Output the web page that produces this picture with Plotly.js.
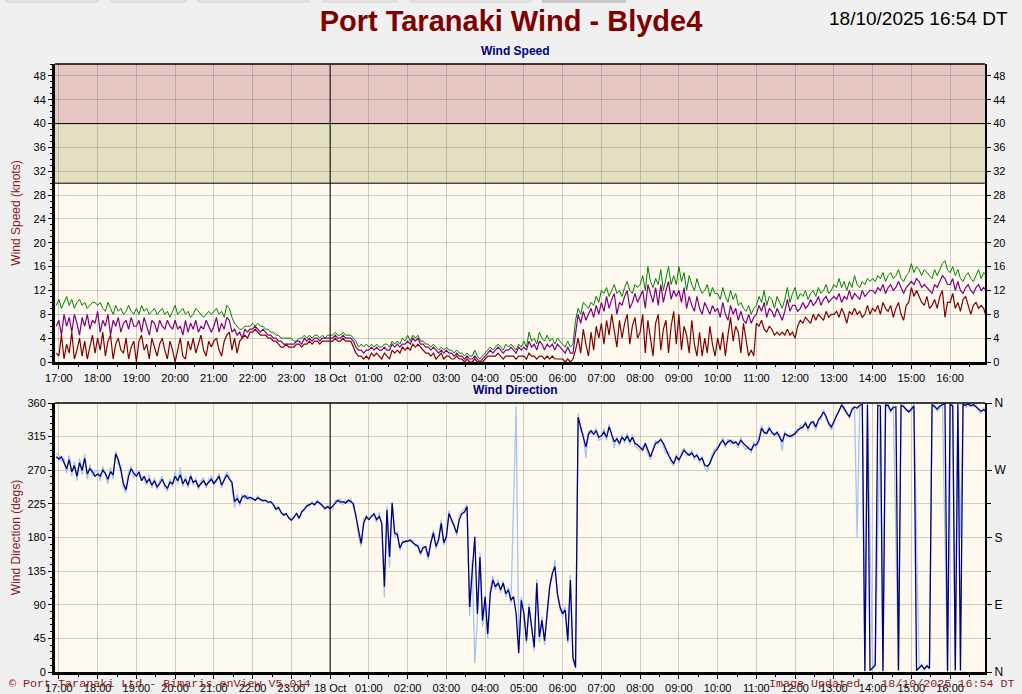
<!DOCTYPE html>
<html>
<head>
<meta charset="utf-8">
<script src="https://cdn.plot.ly/plotly-3.0.1.min.js"></script>
<style>
html,body{margin:0;padding:0;background:#f0f0f0;}
#chart{width:1022px;height:694px;}
</style>
</head>
<body>
<div id="chart"></div>
<script>
// ---- Data (4-minute samples starting 17/10/2025 16:56, one row per hour) ----
const GUST_KT = [9.5,
 10.5,9,10,11,9.5,10.5,9,10,10.5,9.5,10,9,9.5,10,10,
 9.5,10,9,8.5,10,9,8,9.5,8.5,9,8,8.5,9.5,8.5,8,
 9,8,9.5,8.5,9,8,8.5,9,8,8.5,9,8,8.5,7.5,8.5,
 9.5,8,8.5,9,8,8.5,7.5,8,9,8.5,8,7.5,8,8.5,8,
 8.5,9,8,8.5,7.5,9.5,9,7.5,6.5,6,5.5,5.5,6,6,6,
 6.5,6,6.5,6,6,5.5,5.5,5,5,4.5,4.5,4,4,4,4,
 4,3.5,3.5,4,4,4.5,4,4.5,4,4.5,4.5,4,4.5,4,4.5,
 4.5,4.5,5,4.5,4.5,5,4.5,4.5,4.5,4,3.5,2.5,3,2.5,3,
 2.5,3,2.5,3,2.5,2.5,3,3,2.5,3.5,3,3.5,3,4,3.5,
 4.5,3.5,4.5,4,4.5,3.5,3.5,3,3,2.5,3,2.5,2,2.5,2,
 2.5,2,2,1.5,2,1.5,1.5,1,1.5,1,1,2,1,0.5,1,
 1.5,2,2.5,2,2.5,3,2.5,2,3,2.5,3,2.5,2,3,2.5,
 3.5,2.5,5,3.5,4,3,5,4,3.5,4.5,3.5,4,3,4,3.5,
 3,2.5,3.5,2.5,3,7,9,8,10,9.5,9,10,9.5,11,10,
 12,11.5,12.5,11,12,13,11.5,12,11,12.5,13.5,12,11.5,13,12.5,
 13,14.5,12,16,13.5,12.5,14,13,15.5,12,14,16,13,14.5,13,
 16,13.5,15,12,14.5,13,12,14,12.5,11.5,12,13,11,12.5,11.5,
 11.5,10.5,12.5,11,10,12,10.5,11.5,9.5,10,9,8.5,9.5,8,9,
 9.5,11,10,12,9.5,11,10.5,9,11,10,9,10.5,12.5,10,11.5,
 12.5,10.5,11.5,11,12,10.5,11.5,12,11,12.5,11.5,12,13,11.5,12,
 13,12.5,14,12.5,13.5,12,13.5,12.5,14.5,13,12.5,13.5,13,14,13.5,
 14,13.5,14.5,14,15,13.5,14.5,15,14,14.5,15.5,14,13.5,14.5,15,
 16.5,15,16,15.5,14.5,15.5,15,14.5,14,15.5,14.5,15.5,16.5,17,15.5,
 15,16,14.5,15.5,14,13.5,14.5,15,14,13.5,14.5,15.5,14,15,14.5];

const MEAN_KT = [6,
 7,4.5,8,6,7.5,5,8,6.5,4.5,7.5,6,8,5.5,7,6.5,
 8.5,5,7,6,8,4.5,7,6,7.5,5,6.5,7,5.5,7.5,6,
 6,7,5,7.5,6,4.5,7,6.5,5,7,6,5.5,7,6,5.5,
 7,5.5,6,4.5,7,5,6.5,5.5,7,5,6,5.5,7,6,5,
 6,7.5,5,6.5,5.5,7.5,7,5,5.5,4.5,5,4,5.5,5,5.5,
 5.5,6,5.5,5,5.5,5,4.5,4.5,4,4,3.5,3.5,3,3,3,
 3,3,3.5,3.5,3,4,3.5,4,3.5,4,4,3.5,4,4,4,
 4,4,4.5,4,4,4.5,4,4,4,3.5,2.5,2,2,1.5,2,
 2,2.5,2,2.5,2,2,2.5,2,2,3,2.5,3,2.5,3,3,
 3.5,3,4,3.5,4,3,3,2.5,2.5,2,2.5,2,1.5,2,1.5,
 2,1.5,1.5,1,1.5,1,1,0.5,1,0.5,0.5,1,0.5,0,0.5,
 1,1.5,2,1.5,2,2.5,2,1.5,2,2,2.5,2,1.5,2.5,2,
 2.5,2,3.5,2.5,3,2,3.5,3,2,3,2.5,3,2,3,2.5,
 2,1.5,2.5,1.5,1.5,5,8,6.5,8.5,7,8,9,7.5,9.5,8,
 10,8.5,11,9,10.5,11.5,8,10,9.5,11,12,9,10,11.5,10,
 11,12,9,13,11.5,10,12.5,9.5,13,10,12,13.5,10.5,12,11,
 12,10,12.5,9,11,9.5,8.5,11,9,8,10,9,8,9.5,8.5,
 9,7.5,10,8,7,9.5,8,9,7,8.5,7,6.5,8,6.5,7.5,
 8,9.5,8.5,10,7.5,9,8.5,7.5,9,8,7,8.5,10.5,8.5,9.5,
 9.5,8.5,9,10,9,9.5,10.5,9.5,10,11,9.5,10.5,11,10,10.5,
 11,10.5,11.5,10,11,10.5,12,10.5,11.5,11,10.5,12,11,11.5,12,
 12,11.5,12.5,12,13,11.5,12.5,13,12,12.5,13.5,12.5,11.5,12.5,13,
 13.5,13,14,13.5,12.5,13,12.5,12,11.5,13,12.5,13.5,14.5,14,13,
 13,14,12,13.5,12,11.5,12.5,13,12,11.5,12.5,13,12,12.5,12];

const LULL_KT = [1.5,
 1,4.5,0.5,3,1.5,5,0.5,2,4,1,3.5,0.5,2.5,4.5,1.5,
 4,2,5,1,3.5,4.5,0.5,3,4,2,1.5,4,0.5,2.5,3.5,
 0,3.5,4.5,2,3,0.5,4,2.5,1,3,4,2,0.5,3.5,2,
 0,2,4,1,0.5,3.5,2,4,1.5,3,4.5,2,1,3.5,2.5,
 3.5,4,2,1,3.5,4.5,5,2,4,1.5,3.5,4,4.5,4,5,
 5,5.5,5,4.5,4.5,4.5,4,4,3.5,3.5,3,2.5,2.5,3,2.5,
 2.5,2.5,3,3,2.5,3,3,3.5,3,3.5,3.5,3,3.5,3.5,3.5,
 3.5,3.5,4,3.5,3.5,4,3.5,3.5,3.5,2.5,1.5,1,1,0.5,1,
 0.5,1.5,1,1.5,1,0.5,1.5,1,0.5,2,1.5,2,1.5,2.5,2,
 2.5,2,3,2.5,3,2.5,2,1.5,1.5,1,1.5,0.5,1,1.5,0.5,
 1,1,0.5,0.5,1,0.5,0.5,0,0.5,0,0,0.5,0,0,0,
 0.5,1,1,1,1,1.5,1,0.5,1,1,1,1,0.5,1,1,
 1,0.5,1.5,1,1,0.5,1,1,0.5,1,0.5,1,0.5,0.5,0.5,
 0.5,0,0.5,0,0.5,2,4,1.5,5.5,3,1,5,2,6,4,
 6.5,3,7,4.5,8,5,2.5,7,4,6.5,8,3,6,7.5,4,
 5,8,1.5,7,4,1,6.5,8,2,5.5,7,1.5,6,8.5,3,
 8,2,6,4.5,1.5,7,3,1,5,1,4,1.5,6,3,1,
 4,2,5,1,4.5,7.5,3.5,6,5,1.5,6.5,4,1,2,1,
 6.5,6,7,5.5,5,6,5.5,4.5,5,4.5,5,4.5,5.5,4.5,5,
 4,6,7,6.5,7.5,7,6.5,8,7,8,7.5,7,8.5,7.5,8,
 8,8.5,7.5,9,8,6.5,8.5,8,9,8,8.5,7.5,8,9.5,8,
 9,8.5,9.5,8,10,9,8.5,9.5,7.5,9,10,8,7,9.5,10,
 12.5,11,12,11,10,9.5,11,9,9.5,10.5,9,11,12,7.5,10,
 10,11.5,9,10,8.5,10.5,11,9.5,8,9.5,10,9,9.5,9,7.5];

const DIR_AVG_DEG = [288,
 285,288,280,272,284,268,276,262,280,270,286,265,272,268,262,
 265,262,270,266,258,268,264,292,284,270,252,244,262,272,266,
 262,268,256,262,254,258,250,256,248,252,258,250,246,254,252,
 262,256,264,252,258,250,262,254,256,248,252,256,250,254,258,
 252,258,262,250,256,264,258,254,228,232,226,234,236,232,234,
 232,230,233,231,229,230,227,228,224,218,220,214,210,212,206,
 203,208,212,206,214,218,222,224,226,224,228,226,222,219,221,
 219,222,226,230,227,228,226,230,228,225,208,190,172,199,208,
 204,208,212,204,208,199,114,217,154,226,186,184,166,173,175,
 175,177,173,170,168,159,166,168,154,173,186,168,177,199,173,
 181,212,204,195,186,204,212,214,221,87,141,181,78,154,69,
 101,51,105,123,114,119,110,119,105,110,96,101,78,25,96,
 78,42,87,60,33,119,47,69,42,78,114,132,141,105,87,
 78,83,42,123,20,6,341,328,314,301,318,323,318,323,314,
 316,321,314,328,318,308,312,306,314,310,316,308,314,306,304,
 301,297,306,297,288,297,306,308,311,306,297,290,284,279,288,
 284,290,297,293,290,293,288,290,284,286,277,275,279,288,295,
 299,306,310,304,308,310,306,308,304,310,306,302,299,297,304,
 304,310,326,321,319,326,321,317,321,315,308,319,317,315,317,
 319,324,326,328,333,326,333,335,328,337,342,348,342,333,328,
 335,342,351,357,353,346,342,351,355,353,357,358,1,358,2,
 6,9,357,356,1,357,357,350,354,355,2,357,355,352,348,
 352,356,2,6,9,4,8,5,358,355,352,356,357,359,1,
 358,356,2,359,2,358,357,359,356,358,355,352,349,351,348];

const DIR_RAW_DEG = [292,
 290,282,286,266,290,262,282,256,286,264,292,258,278,262,268,
 270,256,275,262,252,274,258,296,278,276,246,240,268,276,260,
 266,262,260,258,250,264,246,260,244,256,262,246,242,258,248,
 268,252,274,248,262,246,266,250,260,244,256,260,246,258,262,
 256,254,266,246,260,268,262,248,220,238,222,238,232,236,230,
 234,228,236,229,231,228,229,226,226,216,222,212,212,210,208,
 205,206,214,204,216,216,224,222,228,222,230,224,224,217,223,
 221,218,230,228,231,224,230,226,232,220,212,180,168,205,204,
 206,210,208,200,214,196,100,222,140,228,180,188,162,176,172,
 177,174,176,168,171,156,169,165,150,176,190,164,180,204,170,
 184,216,200,198,182,208,215,218,224,75,150,12,70,160,60,
 95,45,110,128,110,124,106,122,100,114,92,210,356,30,100,
 82,38,92,55,28,124,40,74,36,82,118,128,150,100,84,
 74,88,38,130,15,10,346,322,318,286,322,320,322,326,310,
 312,326,310,332,316,300,316,302,318,306,320,304,318,302,300,
 296,302,302,292,284,300,310,304,314,302,292,294,280,276,292,
 280,294,300,289,293,297,284,293,280,289,273,268,282,292,298,
 302,303,314,300,312,306,310,305,300,314,302,298,302,293,308,
 300,314,330,318,322,329,318,320,318,318,296,322,314,318,314,
 322,320,330,325,336,322,336,332,324,340,338,351,338,330,324,
 332,345,348,359,350,349,339,354,352,180,356,359,3,356,180,
 4,11,180,353,3,359,354,347,357,180,5,354,358,349,351,
 349,359,180,4,11,2,10,3,355,358,349,353,360,180,3,
 355,359,4,356,180,360,354,357,359,355,358,349,346,354,345];

const HOUR_TICK_LABELS = ['17:00','18:00','19:00','20:00','21:00','22:00','23:00','18 Oct',
 '01:00','02:00','03:00','04:00','05:00','06:00','07:00','08:00','09:00','10:00',
 '11:00','12:00','13:00','14:00','15:00','16:00'];
const SPEED_TICKS = [0,4,8,12,16,20,24,28,32,36,40,44,48];
const DIR_TICKS = [0,45,90,135,180,225,270,315,360];
const COMPASS_TICKS = [0,90,180,270,360];
const COMPASS_LABELS = ['N','E','S','W','N'];

// ---- Time axis helpers ----
const SAMPLE_START = Date.UTC(2025, 9, 17, 16, 56);
const SAMPLE_STEP_MS = 4 * 60 * 1000;
function fmt(ms){ return new Date(ms).toISOString().slice(0,16).replace('T',' '); }
const times = GUST_KT.map((_, i) => fmt(SAMPLE_START + i * SAMPLE_STEP_MS));
const FIRST_HOUR = Date.UTC(2025, 9, 17, 17, 0);
const hourTicks = HOUR_TICK_LABELS.map((_, i) => fmt(FIRST_HOUR + i * 3600000));
const X_RANGE = ['2025-10-17 16:54', '2025-10-18 16:54'];

const GRID = 'rgba(110,110,110,0.32)';
const TICKFONT = {family: 'Liberation Sans, Arial, sans-serif', size: 11, color: '#000'};
const RED_TXT = '#8c1c1c';

const traces = [
  {x: times, y: GUST_KT, type: 'scatter', mode: 'lines', line: {color: '#008000', width: 1}, xaxis: 'x', yaxis: 'y', name: 'Gust'},
  {x: times, y: MEAN_KT, type: 'scatter', mode: 'lines', line: {color: '#800080', width: 1.2}, xaxis: 'x', yaxis: 'y', name: 'Mean'},
  {x: times, y: LULL_KT, type: 'scatter', mode: 'lines', line: {color: '#800000', width: 1.2}, xaxis: 'x', yaxis: 'y', name: 'Lull'},
  {x: times, y: DIR_RAW_DEG, type: 'scatter', mode: 'lines', line: {color: '#a6c6ee', width: 1.3}, xaxis: 'x2', yaxis: 'y2', name: 'Dir raw'},
  {x: times, y: DIR_AVG_DEG, type: 'scatter', mode: 'lines', line: {color: '#000080', width: 1.3}, xaxis: 'x2', yaxis: 'y2', name: 'Dir avg'},
  {x: [], y: [], type: 'scatter', mode: 'lines', xaxis: 'x', yaxis: 'y3', hoverinfo: 'skip'},
  {x: [], y: [], type: 'scatter', mode: 'lines', xaxis: 'x2', yaxis: 'y4', hoverinfo: 'skip'}
];

// page pixel -> paper coordinates (plot area 55..985 x 64..672)
const PL = 55, PW = 930, PB = 672, PH = 608;
const px = v => (v - PL) / PW;
const py = v => (PB - v) / PH;

function xAxis(anchor){
  return {
    type: 'date', anchor: anchor, range: X_RANGE, domain: [0, 1],
    tickmode: 'array', tickvals: hourTicks, ticktext: HOUR_TICK_LABELS,
    ticks: 'outside', ticklen: 4, tickcolor: '#000', tickfont: TICKFONT,
    showgrid: true, gridcolor: GRID, gridwidth: 1,
    showline: true, linecolor: '#000', linewidth: 3, zeroline: false,
    minor: {tick0: '2025-10-17 17:00', dtick: 1800000, ticks: 'outside', ticklen: 2, tickcolor: '#000', showgrid: false},
    fixedrange: true
  };
}

const tabs = [[5,99,'#e0e0e0'],[110,187,'#e0e0e0'],[197,310,'#e0e0e0'],[322,398,'#e0e0e0'],[409,532,'#e0e0e0'],[542,626,'#c8c8c8']];

const yTopDomain = [py(362), 1];
const yBotDomain = [0, py(403)];
const midFrac = (Date.UTC(2025,9,18,0,0) - Date.UTC(2025,9,17,16,54)) / (24 * 3600000);
const topFrac = v => yTopDomain[0] + (yTopDomain[1] - yTopDomain[0]) * v / 50;

const shapes = [
  {type: 'rect', xref: 'x domain', yref: 'y', x0: 0, x1: 1, y0: 30, y1: 40, fillcolor: '#e3e0c1', line: {width: 0}, layer: 'below'},
  {type: 'rect', xref: 'x domain', yref: 'y', x0: 0, x1: 1, y0: 40, y1: 50, fillcolor: '#e6c6c0', line: {width: 0}, layer: 'below'},
  {type: 'line', xref: 'paper', yref: 'paper', x0: 0, x1: 1, y0: topFrac(30), y1: topFrac(30), line: {color: '#000', width: 1}},
  {type: 'line', xref: 'paper', yref: 'paper', x0: 0, x1: 1, y0: topFrac(40), y1: topFrac(40), line: {color: '#000', width: 1}},
  {type: 'line', xref: 'paper', yref: 'paper', x0: midFrac, x1: midFrac, y0: yTopDomain[0], y1: yTopDomain[1], line: {color: '#000', width: 1}},
  {type: 'line', xref: 'paper', yref: 'paper', x0: midFrac, x1: midFrac, y0: yBotDomain[0], y1: yBotDomain[1], line: {color: '#000', width: 1}},
  {type: 'line', xref: 'paper', yref: 'paper', x0: 0, x1: 1, y0: yTopDomain[1], y1: yTopDomain[1], line: {color: '#000', width: 1.5}},
  {type: 'line', xref: 'paper', yref: 'paper', x0: 0, x1: 1, y0: yBotDomain[1], y1: yBotDomain[1], line: {color: '#000', width: 1.5}}
].concat(tabs.map(t => ({type: 'rect', xref: 'paper', yref: 'paper', x0: px(t[0]), x1: px(t[1]), y0: py(3), y1: py(0), fillcolor: t[2], line: {width: 0}})));

const layout = {
  width: 1022, height: 694,
  margin: {l: PL, r: 1022 - PL - PW, t: 64, b: 694 - PB},
  paper_bgcolor: '#f0f0f0', plot_bgcolor: '#fffaf0',
  showlegend: false, hovermode: false,
  title: {text: 'Port Taranaki Wind - Blyde4', x: 0.5, xref: 'container', xanchor: 'center', y: 1 - 21/694, yref: 'container', yanchor: 'middle',
          font: {family: 'Liberation Sans, Arial, sans-serif', size: 29, color: '#800000', weight: 700}},
  xaxis: xAxis('y'),
  xaxis2: Object.assign(xAxis('y2'), {matches: 'x'}),
  yaxis: {
    domain: yTopDomain, anchor: 'x', range: [0, 50],
    tickmode: 'array', tickvals: SPEED_TICKS, ticks: 'outside', ticklen: 4, tickcolor: '#000', tickfont: TICKFONT,
    showgrid: true, gridcolor: GRID, showline: true, linecolor: '#000', linewidth: 3, zeroline: false,
    minor: {dtick: 1, ticks: 'outside', ticklen: 2, tickcolor: '#000', showgrid: false},
    title: {text: 'Wind Speed (knots)', font: {family: 'Liberation Sans, Arial, sans-serif', size: 12, color: RED_TXT}, standoff: 11},
    fixedrange: true
  },
  yaxis3: {
    overlaying: 'y', side: 'right', anchor: 'x', range: [0, 50],
    tickmode: 'array', tickvals: SPEED_TICKS, ticks: 'outside', ticklen: 4, tickcolor: '#000', tickfont: TICKFONT,
    showgrid: false, showline: true, linecolor: '#000', linewidth: 2, zeroline: false, fixedrange: true
  },
  yaxis2: {
    domain: yBotDomain, anchor: 'x2', range: [0, 360],
    tickmode: 'array', tickvals: DIR_TICKS, ticks: 'outside', ticklen: 4, tickcolor: '#000', tickfont: TICKFONT,
    showgrid: true, gridcolor: GRID, showline: true, linecolor: '#000', linewidth: 3, zeroline: false,
    minor: {dtick: 9, ticks: 'outside', ticklen: 2, tickcolor: '#000', showgrid: false},
    title: {text: 'Wind Direction (degs)', font: {family: 'Liberation Sans, Arial, sans-serif', size: 12, color: RED_TXT}, standoff: 5},
    fixedrange: true
  },
  yaxis4: {
    overlaying: 'y2', side: 'right', anchor: 'x2', range: [0, 360],
    tickmode: 'array', tickvals: COMPASS_TICKS, ticktext: COMPASS_LABELS, ticks: 'outside', ticklen: 5, tickcolor: '#000',
    tickfont: {family: 'Liberation Sans, Arial, sans-serif', size: 12, color: '#000'},
    showgrid: false, showline: true, linecolor: '#000', linewidth: 2, zeroline: false,
    minor: {dtick: 45, ticks: 'outside', ticklen: 4, tickcolor: '#000', showgrid: false},
    fixedrange: true
  },
  shapes: shapes,
  annotations: [
    {text: '18/10/2025 16:54 DT', xref: 'paper', yref: 'paper', x: px(918), y: py(18), xanchor: 'center', yanchor: 'middle', showarrow: false,
     font: {family: 'Liberation Sans, Arial, sans-serif', size: 19, color: '#000'}},
    {text: '<b>Wind Speed</b>', xref: 'paper', yref: 'paper', x: px(515), y: py(51), xanchor: 'center', yanchor: 'middle', showarrow: false,
     font: {family: 'Liberation Sans, Arial, sans-serif', size: 12, color: '#000080'}},
    {text: '<b>Wind Direction</b>', xref: 'paper', yref: 'paper', x: px(515), y: py(390), xanchor: 'center', yanchor: 'middle', showarrow: false,
     font: {family: 'Liberation Sans, Arial, sans-serif', size: 12, color: '#000080'}},
    {text: '© Port Taranaki Ltd - Bimaris enView V5.014', xref: 'paper', yref: 'paper', x: px(7), y: py(684), xanchor: 'left', yanchor: 'middle', showarrow: false,
     font: {family: 'Liberation Mono, Courier New, monospace', size: 11.7, color: RED_TXT}},
    {text: 'Image Updated - 18/10/2025 16:54 DT', xref: 'paper', yref: 'paper', x: px(1016), y: py(684), xanchor: 'right', yanchor: 'middle', showarrow: false,
     font: {family: 'Liberation Mono, Courier New, monospace', size: 11.7, color: RED_TXT}}
  ]
};

Plotly.newPlot('chart', traces, layout, {staticPlot: true, displayModeBar: false});
</script>
</body>
</html>
